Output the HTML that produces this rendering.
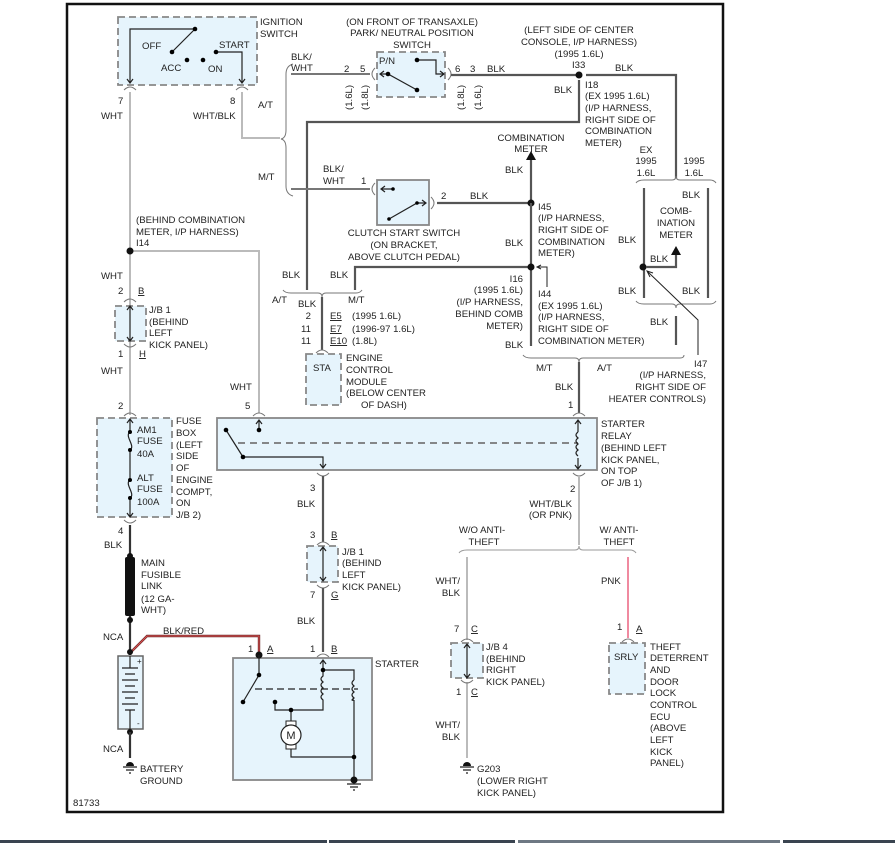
<!DOCTYPE html>
<html><head><meta charset="utf-8"><style>
html,body{margin:0;padding:0;background:#fff}
svg{display:block}
text{font-family:"Liberation Sans",sans-serif;font-size:9.6px;fill:#222}
.d{stroke:#555;stroke-width:2.2;fill:none}
.l{stroke:#bbb;stroke-width:2;fill:none}
.t{stroke:#222;stroke-width:1.2;fill:none}
.box{fill:#e6f4fc;stroke:#888;stroke-width:1.8}
.db{fill:#e6f4fc;stroke:#888;stroke-width:1.8;stroke-dasharray:7,4}
.c{stroke:#777;stroke-width:1;fill:none}
.br{stroke:#777;stroke-width:1;fill:none}
</style></head><body>
<svg width="895" height="843" viewBox="0 0 895 843" xmlns="http://www.w3.org/2000/svg">
<rect x="67" y="4" width="656" height="808" fill="#fff" stroke="#111" stroke-width="2.5"/>
<rect x="0" y="840" width="327" height="3" fill="#3a4450"/>
<rect x="329" y="840" width="186" height="3" fill="#3a4450"/>
<rect x="518" y="840" width="262" height="3" fill="#6e7883"/>
<rect x="783" y="840" width="112" height="3" fill="#3a4450"/>

<!-- Ignition switch -->
<rect class="db" x="118" y="17" width="139" height="68"/>
<path class="t" d="M130,83 V29 H195 L172,52"/>
<path class="t" d="M216,52 H242 V83"/>
<path class="t" d="M127,79 L130,83 L133,79 M239,79 L242,83 L245,79"/>
<circle cx="195" cy="29" r="2.3"/><circle cx="172" cy="52" r="2.3"/><circle cx="187" cy="60" r="2.3"/><circle cx="203" cy="60" r="2.3"/><circle cx="216" cy="52" r="2.3"/>
<text x="260" y="25">IGNITION</text><text x="260" y="37">SWITCH</text>
<text x="142" y="49">OFF</text><text x="219" y="48">START</text><text x="161" y="71">ACC</text><text x="208" y="72">ON</text>
<path class="c" d="M124,90 Q130,84 136,90 M236,90 Q242,84 248,90"/>
<text x="118" y="104">7</text><text x="101" y="119">WHT</text>
<text x="230" y="104">8</text><text x="193" y="119">WHT/BLK</text>

<!-- WHT main -->
<path class="l" d="M130,92 V415"/>
<path class="l" d="M130,251 H259 V413"/>
<circle cx="130" cy="251" r="3.5" fill="#111"/>
<text x="136" y="223">(BEHIND COMBINATION</text><text x="136" y="235">METER, I/P HARNESS)</text><text x="136" y="246">I14</text>
<path class="l" d="M242,92 V138 H280"/>
<path class="br" d="M293,64 Q286,66 286,74 V130 Q286,138 281,139 Q286,140 286,148 V186 Q286,194 293,196"/>
<text x="258" y="108">A/T</text><text x="258" y="180">M/T</text>
<text x="291" y="60">BLK/</text><text x="291" y="71">WHT</text>

<!-- P/N switch -->
<path class="l" d="M291,74 H370" style="stroke:#777"/>
<rect class="db" x="377" y="52" width="68" height="45"/>
<text x="379" y="64">P/N</text>
<path class="t" d="M380,74 H388 L417,90 M417,60 H436 V74 H444 M440,71 L444,74 L440,77 M384,71 L380,74 L384,77"/>
<circle cx="388" cy="74" r="2.3"/><circle cx="417" cy="90" r="2.3"/><circle cx="417" cy="60" r="2.3"/>
<path class="c" d="M375,68 Q369,74 375,80 M448,68 Q454,74 448,80"/>
<text x="344" y="72">2</text><text x="360" y="72">5</text>
<text x="455" y="72">6</text><text x="470" y="72">3</text><text x="487" y="72">BLK</text>
<text transform="translate(352,110) rotate(-90)">(1.6L)</text>
<text transform="translate(368,110) rotate(-90)">(1.8L)</text>
<text transform="translate(464,110) rotate(-90)">(1.8L)</text>
<text transform="translate(481,110) rotate(-90)">(1.6L)</text>
<text x="412" y="25" text-anchor="middle">(ON FRONT OF TRANSAXLE)</text>
<text x="412" y="36" text-anchor="middle">PARK/ NEUTRAL POSITION</text>
<text x="412" y="48" text-anchor="middle">SWITCH</text>

<path class="d" d="M451,75 H578"/>
<path class="d" d="M586,75 H676 V178"/>
<circle cx="579" cy="75" r="3.5" fill="#111"/>
<text x="579" y="33" text-anchor="middle">(LEFT SIDE OF CENTER</text><text x="579" y="45" text-anchor="middle">CONSOLE, I/P HARNESS)</text><text x="579" y="57" text-anchor="middle">(1995 1.6L)</text>
<text x="572" y="68">I33</text><text x="615" y="71">BLK</text><text x="554" y="93">BLK</text>
<text x="585" y="88">I18</text><text x="585" y="99">(EX 1995 1.6L)</text><text x="585" y="111">(I/P HARNESS,</text><text x="585" y="123">RIGHT SIDE OF</text><text x="585" y="134">COMBINATION</text><text x="585" y="146">METER)</text>
<path class="d" d="M579,80 V122 H307 V290"/>

<!-- clutch -->
<path class="l" d="M291,189 H370" style="stroke:#777"/>
<rect class="box" x="377" y="180" width="52" height="45"/>
<path class="t" d="M381,189 H393 M385,186 L381,189 L385,192 M389,219 L417,203 H426 M422,200 L426,203 L422,206"/>
<circle cx="393" cy="189" r="1.8"/><circle cx="389" cy="219" r="1.8"/><circle cx="417" cy="203" r="1.8"/>
<path class="c" d="M375,183 Q369,189 375,195 M431,197 Q437,203 431,209"/>
<text x="323" y="172">BLK/</text><text x="323" y="184">WHT</text><text x="361" y="184">1</text>
<text x="441" y="199">2</text><text x="470" y="199">BLK</text>
<text x="404" y="236" text-anchor="middle">CLUTCH START SWITCH</text><text x="404" y="248" text-anchor="middle">(ON BRACKET,</text><text x="404" y="260" text-anchor="middle">ABOVE CLUTCH PEDAL)</text>
<path class="d" d="M437,203 H531 V158"/>
<path d="M526,160 L531,151 L536,160 Z" fill="#111"/>
<circle cx="531" cy="203" r="3.5" fill="#111"/>
<text x="531" y="141" text-anchor="middle">COMBINATION</text><text x="531" y="152" text-anchor="middle">METER</text>
<text x="505" y="173">BLK</text><text x="505" y="246">BLK</text>
<text x="538" y="210">I45</text><text x="538" y="221">(I/P HARNESS,</text><text x="538" y="233">RIGHT SIDE OF</text><text x="538" y="245">COMBINATION</text><text x="538" y="256">METER)</text>
<path class="d" d="M531,203 V346"/>
<path class="d" d="M531,267 H355 V290"/>
<circle cx="531" cy="267" r="3.5" fill="#111"/>
<path class="t" d="M547,287 V267 H538 M541,265 L537,267 L541,269" style="stroke-width:1"/>
<text x="523" y="282" text-anchor="end">I16</text><text x="523" y="293" text-anchor="end">(1995 1.6L)</text><text x="523" y="305" text-anchor="end">(I/P HARNESS,</text><text x="523" y="317" text-anchor="end">BEHIND COMB</text><text x="523" y="329" text-anchor="end">METER)</text>
<text x="538" y="297">I44</text><text x="538" y="309">(EX 1995 1.6L)</text><text x="538" y="320">(I/P HARNESS,</text><text x="538" y="332">RIGHT SIDE OF</text><text x="538" y="344">COMBINATION METER)</text>
<text x="505" y="348">BLK</text>

<!-- right meter block -->
<path class="br" d="M636,183 Q638,180 644,180 H672 Q676,180 676,176 Q676,180 680,180 H710 Q714,180 716,183"/>
<path class="d" d="M644,188 V298 M708,188 V298"/>
<circle cx="643" cy="267" r="3.5" fill="#111"/>
<path class="d" d="M646,267 H676 V254"/>
<path d="M671,255 L676,246 L681,255 Z" fill="#111"/>
<path class="br" d="M636,301 Q638,304 644,304 H672 Q676,304 676,308 Q676,304 680,304 H710 Q714,304 716,301"/>
<path class="d" d="M676,316 V345"/>
<path class="t" d="M698,355 V320 L648,272 M653,273 L647,271 L650,277" style="stroke-width:1"/>
<text x="646" y="153" text-anchor="middle">EX</text><text x="646" y="164" text-anchor="middle">1995</text><text x="646" y="176" text-anchor="middle">1.6L</text>
<text x="694" y="164" text-anchor="middle">1995</text><text x="694" y="176" text-anchor="middle">1.6L</text>
<text x="682" y="198">BLK</text>
<text x="676" y="214" text-anchor="middle">COMB-</text><text x="676" y="226" text-anchor="middle">INATION</text><text x="676" y="238" text-anchor="middle">METER</text>
<text x="618" y="243">BLK</text><text x="650" y="262">BLK</text>
<text x="618" y="294">BLK</text><text x="682" y="294">BLK</text><text x="650" y="325">BLK</text>
<text x="694" y="367">I47</text>
<text x="706" y="378" text-anchor="end">(I/P HARNESS,</text><text x="706" y="390" text-anchor="end">RIGHT SIDE OF</text><text x="706" y="402" text-anchor="end">HEATER CONTROLS)</text>

<!-- bottom brace MT/AT -->
<path class="br" d="M523,355 Q525,358 531,358 H575 Q579,358 579,362 Q579,358 583,358 H680 Q684,358 684,355"/>
<path class="d" d="M579,362 V413"/>
<text x="536" y="371">M/T</text><text x="597" y="371">A/T</text><text x="555" y="390">BLK</text><text x="568" y="408">1</text>

<!-- ECM brace -->
<path class="br" d="M283,290 Q285,293 291,293 H318 Q322,293 322,297 Q322,293 326,293 H356 Q360,293 362,290"/>
<path class="d" d="M322,297 V350"/>
<text x="282" y="278">BLK</text><text x="330" y="278">BLK</text>
<text x="272" y="303">A/T</text><text x="298" y="307">BLK</text><text x="348" y="303">M/T</text>
<text x="311" y="319" text-anchor="end">2</text><text x="330" y="319" text-decoration="underline">E5</text><text x="352" y="319">(1995 1.6L)</text>
<text x="311" y="332" text-anchor="end">11</text><text x="330" y="332" text-decoration="underline">E7</text><text x="352" y="332">(1996-97 1.6L)</text>
<text x="311" y="344" text-anchor="end">11</text><text x="330" y="344" text-decoration="underline">E10</text><text x="352" y="344">(1.8L)</text>
<path class="c" d="M316,353 Q322,347 328,353"/>
<rect class="db" x="306" y="354" width="35" height="51"/>
<text x="313" y="371">STA</text>
<text x="346" y="361">ENGINE</text><text x="346" y="373">CONTROL</text><text x="346" y="385">MODULE</text><text x="346" y="396">(BELOW CENTER</text><text x="361" y="408">OF DASH)</text>

<!-- J/B 1 upper -->
<text x="101" y="279">WHT</text><text x="118" y="294">2</text><text x="138" y="294" text-decoration="underline">B</text>
<path class="c" d="M124,302 Q130,296 136,302 M124,344 Q130,350 136,344"/>
<rect class="db" x="115" y="306" width="31" height="35"/>
<path class="t" d="M130,307 V340 M127,310 L130,306 L133,310 M127,337 L130,341 L133,337"/>
<text x="149" y="313">J/B 1</text><text x="149" y="325">(BEHIND</text><text x="149" y="336">LEFT</text><text x="149" y="348">KICK PANEL)</text>
<text x="118" y="357">1</text><text x="139" y="357" text-decoration="underline">H</text>
<text x="101" y="374">WHT</text><text x="230" y="390">WHT</text>
<text x="118" y="409">2</text><text x="245" y="409">5</text>

<!-- Fuse box -->
<path class="c" d="M124,416 Q130,410 136,416"/>
<rect class="db" x="97" y="418" width="75" height="99"/>
<path class="t" d="M130,420 V432 M130,450 V480 M130,498 V516 M127,423 L130,419 L133,423 M127,513 L130,517 L133,513"/>
<path class="t" d="M130,432 C124,436 136,446 130,450 M130,480 C124,484 136,494 130,498"/>
<circle cx="130" cy="432" r="2"/><circle cx="130" cy="450" r="2"/><circle cx="130" cy="480" r="2"/><circle cx="130" cy="498" r="2"/>
<text x="137" y="433">AM1</text><text x="137" y="444">FUSE</text><text x="137" y="457">40A</text>
<text x="137" y="481">ALT</text><text x="137" y="492">FUSE</text><text x="137" y="505">100A</text>
<text x="176" y="424">FUSE</text><text x="176" y="436">BOX</text><text x="176" y="448">(LEFT</text><text x="176" y="459">SIDE</text><text x="176" y="471">OF</text><text x="176" y="483">ENGINE</text><text x="176" y="495">COMPT,</text><text x="176" y="506">ON</text><text x="176" y="518">J/B 2)</text>
<path class="c" d="M124,520 Q130,526 136,520"/>
<text x="118" y="534">4</text><text x="104" y="548">BLK</text>
<path class="d" d="M130,525 V655" style="stroke:#333"/>
<rect x="125" y="557" width="10" height="59" fill="#111" rx="2"/>
<circle cx="130" cy="556" r="3" fill="#111"/><circle cx="130" cy="620" r="3" fill="#111"/>
<text x="141" y="566">MAIN</text><text x="141" y="578">FUSIBLE</text><text x="141" y="589">LINK</text><text x="141" y="602">(12 GA-</text><text x="141" y="613">WHT)</text>
<text x="103" y="640">NCA</text>
<path d="M131,652 L147,636 H259 V655" fill="none" stroke="#6a2a2a" stroke-width="2.4"/>
<path d="M131,652 L147,636 H259 V655" fill="none" stroke="#e05050" stroke-width="1"/>
<text x="163" y="634">BLK/RED</text>
<circle cx="130" cy="652" r="3" fill="#111"/>
<!-- battery -->
<rect x="118" y="656" width="25" height="73" fill="#e6f4fc" stroke="#666" stroke-width="1.5"/>
<path class="t" d="M130,656 V668 M122,668 H138 M125,674 H135 M122,680 H138 M125,686 H135 M122,692 H138 M125,698 H135 M122,704 H138 M125,710 H135 M130,710 V729"/>
<text x="137" y="664" style="font-size:8px">+</text><text x="137" y="726" style="font-size:8px">-</text>
<circle cx="130" cy="732" r="3" fill="#111"/>
<path class="d" d="M130,732 V758" style="stroke:#333"/>
<text x="103" y="752">NCA</text>
<path d="M126,766 A4,4 0 0 1 134,766 Z" fill="#111"/><path class="t" d="M123,767 H137 M126,770 H134 M129,773 H131"/>
<text x="140" y="772">BATTERY</text><text x="140" y="784">GROUND</text>
<text x="73" y="806">81733</text>

<!-- starter relay -->
<path class="c" d="M253,416 Q259,410 265,416 M573,416 Q579,410 585,416"/>
<rect class="box" x="217" y="418" width="380" height="52"/>
<path class="t" d="M259,430 V421 M256,424 L259,420 L262,424 M226,430 L243,457 H323 V468 M320,464 L323,468 L326,464"/>
<circle cx="259" cy="430" r="2.3"/><circle cx="226" cy="430" r="2.3"/><circle cx="243" cy="457" r="2.3"/>
<path d="M238,443 H578" stroke="#777" stroke-width="1.8" stroke-dasharray="7,5"/>
<path class="t" d="M578,421 V432 M575,424 L578,420 L581,424 M578,458 V468 M575,465 L578,469 L581,465"/>
<path class="t" d="M578,432 q-4,3 0,6 q-4,3 0,6 q-4,3 0,6 q-4,3 0,6"/>
<text x="601" y="427">STARTER</text><text x="601" y="439">RELAY</text><text x="601" y="451">(BEHIND LEFT</text><text x="601" y="463">KICK PANEL,</text><text x="601" y="474">ON TOP</text><text x="601" y="486">OF J/B 1)</text>
<path class="c" d="M317,473 Q323,479 329,473 M573,473 Q579,479 585,473"/>

<!-- BLK relay to starter -->
<path class="d" d="M323,476 V542"/>
<text x="310" y="491">3</text><text x="297" y="507">BLK</text>
<text x="310" y="538">3</text><text x="331" y="538" text-decoration="underline">B</text>
<path class="c" d="M317,545 Q323,539 329,545 M317,585 Q323,591 329,585"/>
<rect class="db" x="307" y="546" width="31" height="36"/>
<path class="t" d="M323,547 V581 M320,551 L323,547 L326,551 M320,577 L323,581 L326,577"/>
<text x="342" y="555">J/B 1</text><text x="342" y="566">(BEHIND</text><text x="342" y="578">LEFT</text><text x="342" y="590">KICK PANEL)</text>
<text x="310" y="598">7</text><text x="331" y="598" text-decoration="underline">G</text>
<path class="d" d="M323,588 V652"/>
<text x="297" y="624">BLK</text>
<text x="310" y="652">1</text><text x="331" y="652" text-decoration="underline">B</text><text x="248" y="652">1</text><text x="267" y="652" text-decoration="underline">A</text>
<path class="c" d="M317,657 Q323,651 329,657"/>

<!-- starter -->
<rect class="box" x="233" y="658" width="139" height="122"/>
<text x="375" y="667">STARTER</text>
<circle cx="259" cy="655" r="3.5" fill="#111"/>
<path class="t" d="M259,655 V675 L243,702"/>
<circle cx="259" cy="675" r="2.3"/><circle cx="243" cy="702" r="2.3"/>
<path d="M255,689 H358" stroke="#222" stroke-width="1.3" stroke-dasharray="7,4"/>
<path class="t" d="M323,661 V670 M320,664 L323,660 L326,664 M323,670 H354 V680 M354,700 V780 M323,670 V676 q-4,3 0,6 q-4,3 0,6 q-4,3 0,6 q-4,3 0,6 V710 H275 V702 M291,710 V725 M291,745 V757 H354 M354,680 q-4,3 0,6 q-4,3 0,6 q-4,3 0,6 q-4,3 0,2"/>
<circle cx="323" cy="670" r="2.3"/><circle cx="275" cy="702" r="2.3"/><circle cx="291" cy="710" r="2.3"/><circle cx="354" cy="757" r="2.3"/>
<rect x="286" y="721" width="10" height="5" fill="#fff" stroke="#222"/><rect x="286" y="744" width="10" height="5" fill="#fff" stroke="#222"/>
<circle cx="291" cy="735" r="10" fill="#fff" stroke="#222" stroke-width="1.2"/>
<text x="291" y="739" text-anchor="middle" style="font-size:11px">M</text>
<circle cx="354" cy="780" r="3.5" fill="#111"/><path class="t" d="M347,784 H361 M350,787 H358 M353,790 H355"/>

<!-- WHT/BLK to anti-theft -->
<path class="l" d="M579,476 V545"/>
<text x="570" y="492">2</text><text x="572" y="507" text-anchor="end">WHT/BLK</text><text x="572" y="518" text-anchor="end">(OR PNK)</text>
<path class="br" d="M459,553 Q461,550 467,550 H575 Q579,550 579,546 Q579,550 583,550 H630 Q634,550 636,553" style="stroke:#999"/>
<text x="482" y="533" text-anchor="middle">W/O ANTI-</text><text x="484" y="545" text-anchor="middle">THEFT</text>
<text x="619" y="533" text-anchor="middle">W/ ANTI-</text><text x="619" y="545" text-anchor="middle">THEFT</text>
<path class="l" d="M467,557 V640 M467,682 V758"/>
<text x="460" y="584" text-anchor="end">WHT/</text><text x="460" y="596" text-anchor="end">BLK</text>
<text x="454" y="632">7</text><text x="471" y="632" text-decoration="underline">C</text>
<path class="c" d="M461,642 Q467,636 473,642 M461,680 Q467,686 473,680"/>
<rect class="db" x="451" y="643" width="32" height="35"/>
<path class="t" d="M467,644 V677 M464,648 L467,644 L470,648 M464,674 L467,678 L470,674"/>
<text x="486" y="650">J/B 4</text><text x="486" y="662">(BEHIND</text><text x="486" y="673">RIGHT</text><text x="486" y="685">KICK PANEL)</text>
<text x="456" y="695">1</text><text x="471" y="695" text-decoration="underline">C</text>
<text x="460" y="728" text-anchor="end">WHT/</text><text x="460" y="740" text-anchor="end">BLK</text>
<path d="M463,766 A4,4 0 0 1 471,766 Z" fill="#111"/><path class="t" d="M460,767 H474 M463,770 H471 M466,773 H468"/>
<text x="477" y="772">G203</text><text x="477" y="784">(LOWER RIGHT</text><text x="477" y="796">KICK PANEL)</text>

<path d="M628,557 V638" stroke="#f08aa0" stroke-width="2"/>
<text x="601" y="584">PNK</text>
<text x="617" y="630">1</text><text x="636" y="632" text-decoration="underline">A</text>
<path class="c" d="M622,642 Q628,636 634,642"/>
<rect class="db" x="609" y="643" width="36" height="51"/>
<text x="614" y="660">SRLY</text>
<text x="650" y="650">THEFT</text><text x="650" y="661">DETERRENT</text><text x="650" y="673">AND</text><text x="650" y="685">DOOR</text><text x="650" y="696">LOCK</text><text x="650" y="708">CONTROL</text><text x="650" y="720">ECU</text><text x="650" y="731">(ABOVE</text><text x="650" y="743">LEFT</text><text x="650" y="755">KICK</text><text x="650" y="766">PANEL)</text>
</svg>
</body></html>
